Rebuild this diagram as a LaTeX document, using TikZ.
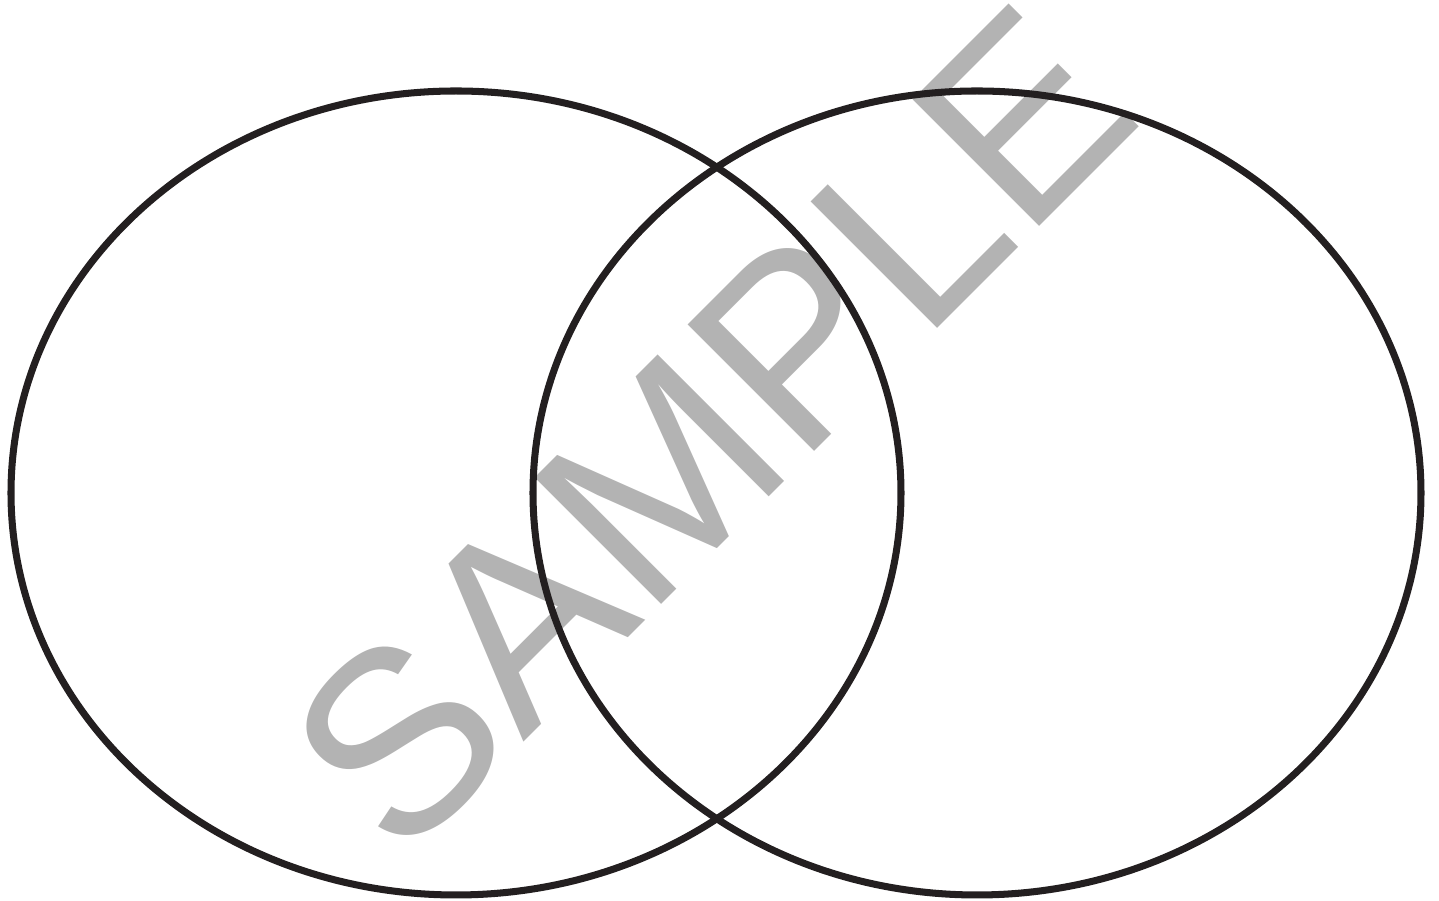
\documentclass[tikz,border=0pt]{standalone}
\usepackage{fontspec}
\setmainfont{Liberation Sans}
\usepackage{xcolor}
\definecolor{outline}{RGB}{35,31,32}
\definecolor{stampgray}{RGB}{179,179,179}

\begin{document}
\begin{tikzpicture}
\useasboundingbox (0,0) rectangle (14.39,9.01);
% watermark
\node[rotate=45,anchor=base,inner sep=0pt,stampgray,font=\fontsize{74}{74}\selectfont] (stamp) at (7.74,4.09) {SAMPLE};
% the two sets
\draw[outline,line width=2pt] (4.56,4.08) ellipse [x radius=4.45,y radius=4.02];
\draw[outline,line width=2pt] (9.77,4.08) ellipse [x radius=4.44,y radius=4.02];
\end{tikzpicture}
\end{document}
